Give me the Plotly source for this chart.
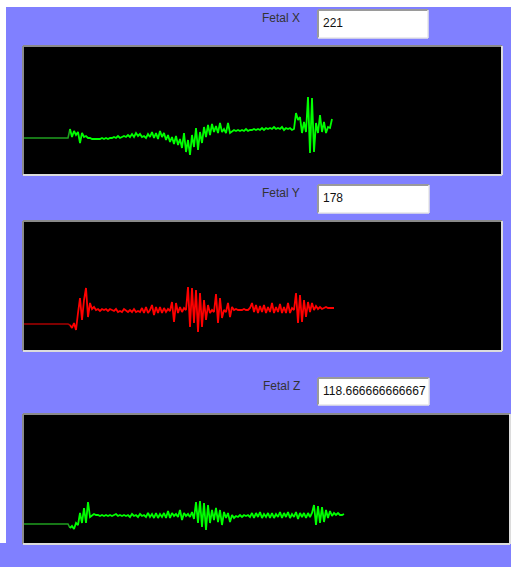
import numpy as np
import plotly.graph_objects as go

W, H = 511, 567

# ---- data (sample amplitude, 2 px per sample) ----
labels = ["Fetal X", "Fetal Y", "Fetal Z"]
readouts = ["221", "178", "118.666666666667"]

lead_x = [36] * 23
sig_x = [45, 37, 43, 39, 42, 31, 41, 37, 38, 36, 36, 35, 35, 35, 35, 35, 36, 35, 36, 35,
         36, 36, 37, 36, 38, 36, 37, 38, 37, 39, 37, 40, 37, 41, 38, 40, 37, 38, 36, 40,
         37, 42, 36, 41, 35, 43, 37, 41, 34, 39, 32, 37, 30, 38, 29, 35, 26, 41, 22, 34,
         19, 39, 27, 46, 24, 42, 31, 47, 37, 49, 39, 50, 42, 48, 41, 51, 42, 45, 41, 51,
         41, 43, 44, 43, 44, 43, 44, 43, 45, 43, 44, 44, 45, 44, 45, 44, 46, 44, 46, 45,
         46, 45, 47, 45, 46, 45, 47, 44, 46, 45, 46, 44, 45, 61, 54, 57, 41, 52, 42, 77,
         21, 76, 22, 51, 41, 59, 42, 52, 41, 47, 46, 55]

lead_y = [26] * 23
sig_y = [25, 22, 27, 20, 37, 52, 30, 50, 62, 33, 47, 41, 43, 40, 41, 39, 41, 40, 41, 39,
         41, 40, 39, 41, 38, 39, 38, 41, 39, 38, 40, 38, 41, 38, 39, 38, 42, 37, 43, 37,
         40, 45, 35, 43, 37, 43, 37, 42, 38, 41, 39, 48, 28, 47, 37, 43, 38, 42, 40, 63,
         23, 62, 27, 60, 18, 57, 23, 50, 30, 45, 37, 40, 38, 56, 27, 52, 32, 40, 38, 47,
         33, 43, 40, 41, 40, 40, 40, 41, 40, 40, 42, 47, 38, 45, 37, 44, 38, 45, 37, 43,
         38, 47, 37, 43, 38, 46, 37, 43, 37, 47, 37, 42, 40, 57, 27, 55, 28, 50, 33, 48,
         38, 47, 40, 44, 41, 43, 41, 42, 43, 42, 42, 42, 42]

lead_z = [19] * 23
sig_z = [15, 17, 14, 20, 18, 30, 20, 35, 20, 41, 26, 28, 29, 28, 28, 27, 28, 27, 28, 27,
         28, 27, 28, 29, 27, 28, 27, 28, 27, 28, 26, 29, 27, 28, 26, 29, 27, 28, 26, 30,
         26, 29, 25, 30, 25, 29, 26, 30, 25, 32, 25, 30, 27, 29, 26, 33, 23, 30, 27, 29,
         26, 31, 24, 41, 20, 42, 16, 40, 13, 38, 20, 33, 23, 35, 21, 33, 18, 31, 25, 30,
         21, 28, 25, 27, 26, 28, 26, 28, 27, 28, 26, 30, 25, 30, 26, 31, 25, 29, 26, 30,
         25, 30, 25, 29, 26, 31, 25, 30, 26, 31, 25, 29, 26, 31, 24, 30, 26, 30, 25, 30,
         26, 30, 38, 18, 37, 20, 36, 21, 33, 25, 32, 27, 30, 28, 30, 28, 28, 29]

series = [(lead_x, sig_x, "#1f9f1f", "#00ff00"),
          (lead_y, sig_y, "#a80000", "#ff0000"),
          (lead_z, sig_z, "#1f9f1f", "#00ff00")]

# panel pixel boxes: (left, top, right, bottom)
panels = [(24, 47, 501, 174), (24, 222, 501, 350), (24, 415, 509, 543)]
boxes = [(318, 10, 428, 38), (318, 185, 429, 213), (318, 378, 429, 405)]
label_y = [18, 193, 386]

def px(x):
    return x / W

def py(y):
    return 1 - y / H

fig = go.Figure()
shapes = []
annotations = []
for k, ((lead, sig, c0, c1), (l, t, r, b)) in enumerate(zip(series, panels)):
    n = len(lead) + len(sig)
    xs = np.arange(n)
    ys = np.array(lead + sig)
    ax = "" if k == 0 else str(k + 1)
    nl = len(lead)
    fig.add_trace(go.Scatter(x=xs[:nl + 1], y=ys[:nl + 1], mode="lines",
                             line=dict(color=c0, width=1.6), xaxis="x" + ax, yaxis="y" + ax,
                             showlegend=False, hoverinfo="skip"))
    fig.add_trace(go.Scatter(x=xs[nl:], y=ys[nl:], mode="lines",
                             line=dict(color=c1, width=1.8), xaxis="x" + ax, yaxis="y" + ax,
                             showlegend=False, hoverinfo="skip"))
    axis_common = dict(showgrid=False, zeroline=False, showticklabels=False,
                       showline=False, ticks="", fixedrange=True)
    fig.layout["xaxis" + ax] = dict(domain=[px(l), px(r)], range=[0, (r - l) / 2],
                                    anchor="y" + ax, **axis_common)
    fig.layout["yaxis" + ax] = dict(domain=[py(b), py(t)], range=[0, b - t],
                                    anchor="x" + ax, **axis_common)
    # sunken frame
    shapes += [
        dict(type="line", xref="paper", yref="paper", x0=px(l - 1), x1=px(r + 1), y0=py(t - 1), y1=py(t - 1),
             line=dict(color="#8a8a8a", width=2)),
        dict(type="line", xref="paper", yref="paper", x0=px(l - 1), x1=px(l - 1), y0=py(t - 1), y1=py(b + 1),
             line=dict(color="#8a8a8a", width=2)),
        dict(type="line", xref="paper", yref="paper", x0=px(l - 1), x1=px(r + 1), y0=py(b + 1), y1=py(b + 1),
             line=dict(color="#dcdcdc", width=2)),
        dict(type="line", xref="paper", yref="paper", x0=px(r + 1), x1=px(r + 1), y0=py(t - 1), y1=py(b + 1),
             line=dict(color="#dcdcdc", width=2)),
    ]

for k, ((bl, bt, br, bb), lab, val, ly) in enumerate(zip(boxes, labels, readouts, label_y)):
    shapes += [
        dict(type="rect", xref="paper", yref="paper", x0=px(bl), x1=px(br), y0=py(bb), y1=py(bt),
             fillcolor="white", line=dict(width=0)),
        dict(type="line", xref="paper", yref="paper", x0=px(bl), x1=px(br), y0=py(bt), y1=py(bt),
             line=dict(color="#9a9a9a", width=2)),
        dict(type="line", xref="paper", yref="paper", x0=px(bl), x1=px(bl), y0=py(bt), y1=py(bb),
             line=dict(color="#9a9a9a", width=2)),
        dict(type="line", xref="paper", yref="paper", x0=px(bl), x1=px(br), y0=py(bb), y1=py(bb),
             line=dict(color="#e6e6e6", width=1.5)),
        dict(type="line", xref="paper", yref="paper", x0=px(br), x1=px(br), y0=py(bt), y1=py(bb),
             line=dict(color="#e6e6e6", width=1.5)),
    ]
    annotations.append(dict(x=px(bl + 3), y=py((bt + bb) / 2 - 1), xref="paper", yref="paper",
                            text=val, showarrow=False, xanchor="left", yanchor="middle",
                            font=dict(family="Liberation Sans, Arial", size=12, color="#111111")))
    annotations.append(dict(x=px(302), y=py(ly), xref="paper", yref="paper",
                            text=lab, showarrow=False, xanchor="right", yanchor="middle",
                            font=dict(family="Liberation Sans, Arial", size=12, color="#333333")))

# white page edges
shapes += [
    dict(type="rect", xref="paper", yref="paper", x0=0, x1=1, y0=py(7), y1=1,
         fillcolor="white", line=dict(width=0), layer="below"),
    dict(type="rect", xref="paper", yref="paper", x0=0, x1=px(6), y0=py(543), y1=1,
         fillcolor="white", line=dict(width=0), layer="below"),
]

fig.update_layout(width=W, height=H, margin=dict(l=0, r=0, t=0, b=0),
                  paper_bgcolor="#8080ff", plot_bgcolor="black",
                  shapes=shapes, annotations=annotations, showlegend=False)
fig.write_html("out.html", config={"displayModeBar": False},
               post_script="document.body.style.margin='0';document.body.style.padding='0';document.body.style.overflow='hidden';")
